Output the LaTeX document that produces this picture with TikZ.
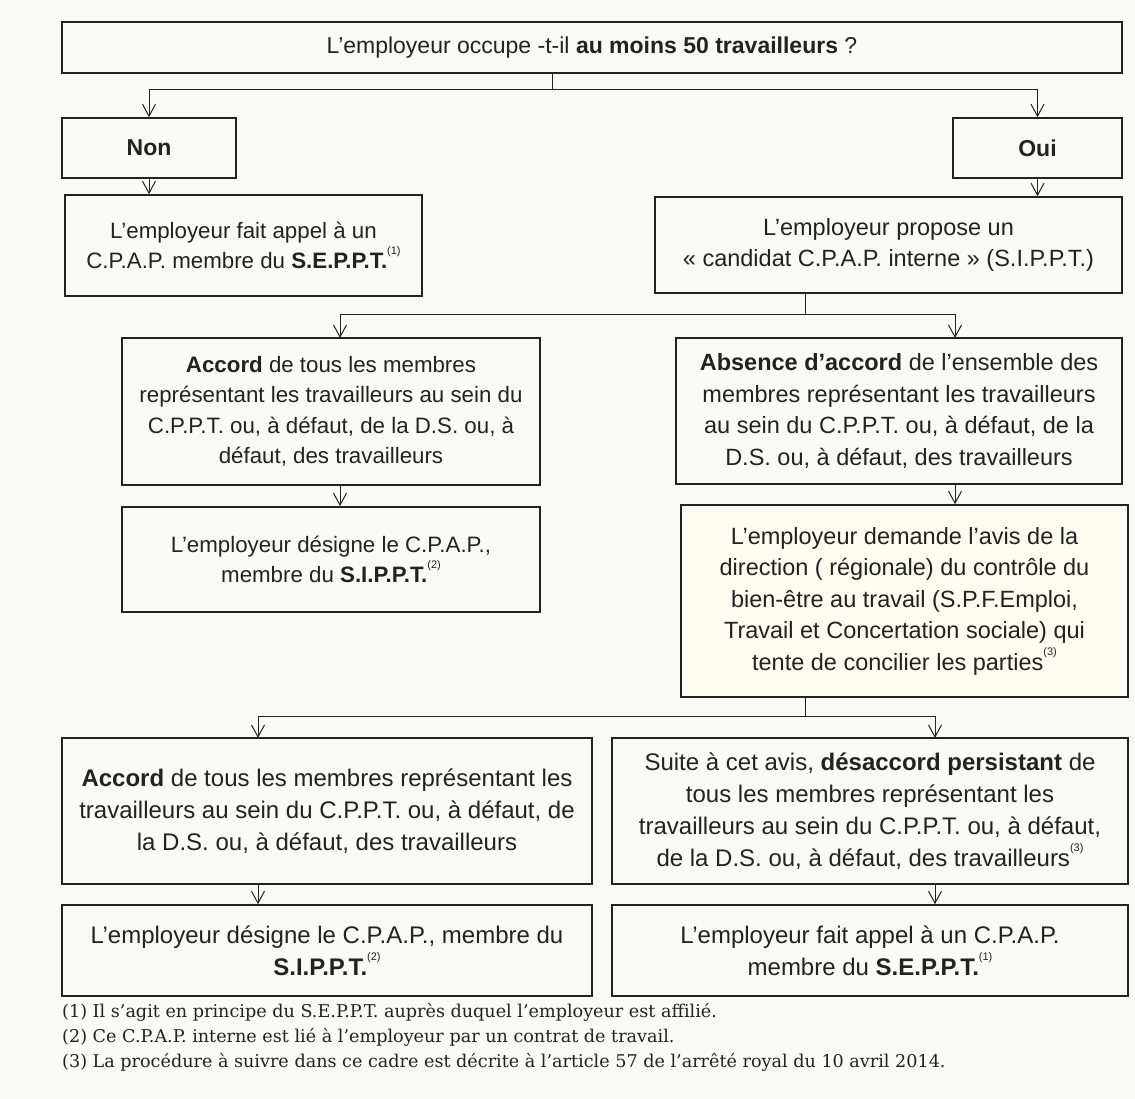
\documentclass[tikz,border=0pt]{standalone}
\usepackage{fontspec}
\setmainfont{Liberation Sans}
\newfontfamily\notefont{DejaVu Serif}
\usetikzlibrary{arrows.meta,calc}
\definecolor{ink}{HTML}{222222}
\definecolor{paper}{HTML}{F9F9F7}
\definecolor{cream}{HTML}{FDFCF1}
\newcommand{\fnm}[1]{\raisebox{1.2ex}{\fontsize{11}{11}\selectfont(#1)}}
\tikzset{
  x=1pt, y=-1pt,
  box/.style={draw=ink, line width=1.6pt, inner sep=0pt, align=center, text=ink},
  fleft/.style={font=\fontsize{22.3}{30.5}\selectfont},
  fright/.style={font=\fontsize{23.5}{31.5}\selectfont},
  fbottom/.style={font=\fontsize{24}{32}\selectfont},
  conn/.style={draw=ink, line width=1pt},
  arr/.style={conn, -{Straight Barb[length=12pt,width=13pt,line width=1pt]}},
  note/.style={anchor=west, inner sep=0pt, text=ink, font=\notefont\fontsize{17.6}{20}\selectfont}
}
\begin{document}
\begin{tikzpicture}
\fill[paper] (0,0) rectangle (1135,1099);
\useasboundingbox (0,0) rectangle (1135,1099);

% boxes
\node[box, minimum width=1060pt, minimum height=51pt, font=\fontsize{23}{30}\selectfont] (top) at (592,47.5)
  {L’employeur occupe -t-il \textbf{au moins 50 travailleurs} ?};
\node[box, minimum width=174pt, minimum height=60pt, font=\bfseries\fontsize{23}{30}\selectfont] (non) at (149,148) {Non};
\node[box, minimum width=169pt, minimum height=60pt, font=\bfseries\fontsize{23}{30}\selectfont] (oui) at (1037.5,148) {Oui};
\node[box, fleft, minimum width=357pt, minimum height=101pt] (a) at (243.5,245.5)
  {L’employeur fait appel à un\\ C.P.A.P. membre du \textbf{S.E.P.P.T.}\fnm{1}};
\node[box, fright, minimum width=467pt, minimum height=96pt] (b) at (888.5,245)
  {L’employeur propose un\\ « candidat C.P.A.P. interne » (S.I.P.P.T.)};
\node[box, fleft, minimum width=418pt, minimum height=147pt] (c) at (331,411.5)
  {\textbf{Accord} de tous les membres\\ représentant les travailleurs au sein du\\ C.P.P.T. ou, à défaut, de la D.S. ou, à\\ défaut, des travailleurs};
\node[box, fright, minimum width=446pt, minimum height=146pt] (d) at (899,411)
  {\textbf{Absence d’accord} de l’ensemble des\\ membres représentant les travailleurs\\ au sein du C.P.P.T. ou, à défaut, de la\\ D.S. ou, à défaut, des travailleurs};
\node[box, fleft, minimum width=418pt, minimum height=105pt] (e) at (331,559.5)
  {L’employeur désigne le C.P.A.P.,\\ membre du \textbf{S.I.P.P.T.}\fnm{2}};
\node[box, fright, fill=cream, minimum width=447pt, minimum height=192pt] (f) at (904.5,601)
  {L’employeur demande l’avis de la\\ direction ( régionale) du contrôle du\\ bien-être au travail (S.P.F.Emploi,\\ Travail et Concertation sociale) qui\\ tente de concilier les parties\fnm{3}};
\node[box, fbottom, minimum width=530pt, minimum height=146pt] (g) at (327,811)
  {\textbf{Accord} de tous les membres représentant les\\ travailleurs au sein du C.P.P.T. ou, à défaut, de\\ la D.S. ou, à défaut, des travailleurs};
\node[box, fbottom, minimum width=516pt, minimum height=146pt] (h) at (870,811)
  {Suite à cet avis, \textbf{désaccord persistant} de\\ tous les membres représentant les\\ travailleurs au sein du C.P.P.T. ou, à défaut,\\ de la D.S. ou, à défaut, des travailleurs\fnm{3}};
\node[box, fbottom, minimum width=530pt, minimum height=91pt] (i) at (327,950.5)
  {L’employeur désigne le C.P.A.P., membre du\\ \textbf{S.I.P.P.T.}\fnm{2}};
\node[box, fbottom, minimum width=516pt, minimum height=91pt] (j) at (870,950.5)
  {L’employeur fait appel à un C.P.A.P.\\ membre du \textbf{S.E.P.P.T.}\fnm{1}};

% footnotes
\node[note] (n1) at (62,1012) {(1) Il s’agit en principe du S.E.P.P.T. auprès duquel l’employeur est affilié.};
\node[note] (n2) at (62,1037) {(2) Ce C.P.A.P. interne est lié à l’employeur par un contrat de travail.};
\node[note] (n3) at (62,1062) {(3) La procédure à suivre dans ce cadre est décrite à l’article 57 de l’arrêté royal du 10 avril 2014.};

% junctions
\coordinate (j1) at (552,90);
\coordinate (j2) at (805,315);
\coordinate (j3) at (805,716);
\coordinate (cin) at (340,338);
\coordinate (din) at (955,338);
\coordinate (gin) at (258,738);
\coordinate (hin) at (935,738);

% connectors
\draw[conn] (top.south -| j1) -- (j1);
\draw[arr] (j1) -| (non.north);
\draw[arr] (j1) -| (oui.north);
\draw[arr] (non.south) -- (non.south |- a.north);
\draw[arr] (oui.south) -- (oui.south |- b.north);
\draw[conn] (b.south -| j2) -- (j2);
\draw[arr] (j2) -| (cin);
\draw[arr] (j2) -| (din);
\draw[arr] (c.south -| cin) -- (e.north -| cin);
\draw[arr] (d.south -| din) -- (f.north -| din);
\draw[conn] (f.south -| j3) -- (j3);
\draw[arr] (j3) -| (gin);
\draw[arr] (j3) -| (hin);
\draw[arr] (g.south -| gin) -- (i.north -| gin);
\draw[arr] (h.south -| hin) -- (j.north -| hin);
\end{tikzpicture}
\end{document}
